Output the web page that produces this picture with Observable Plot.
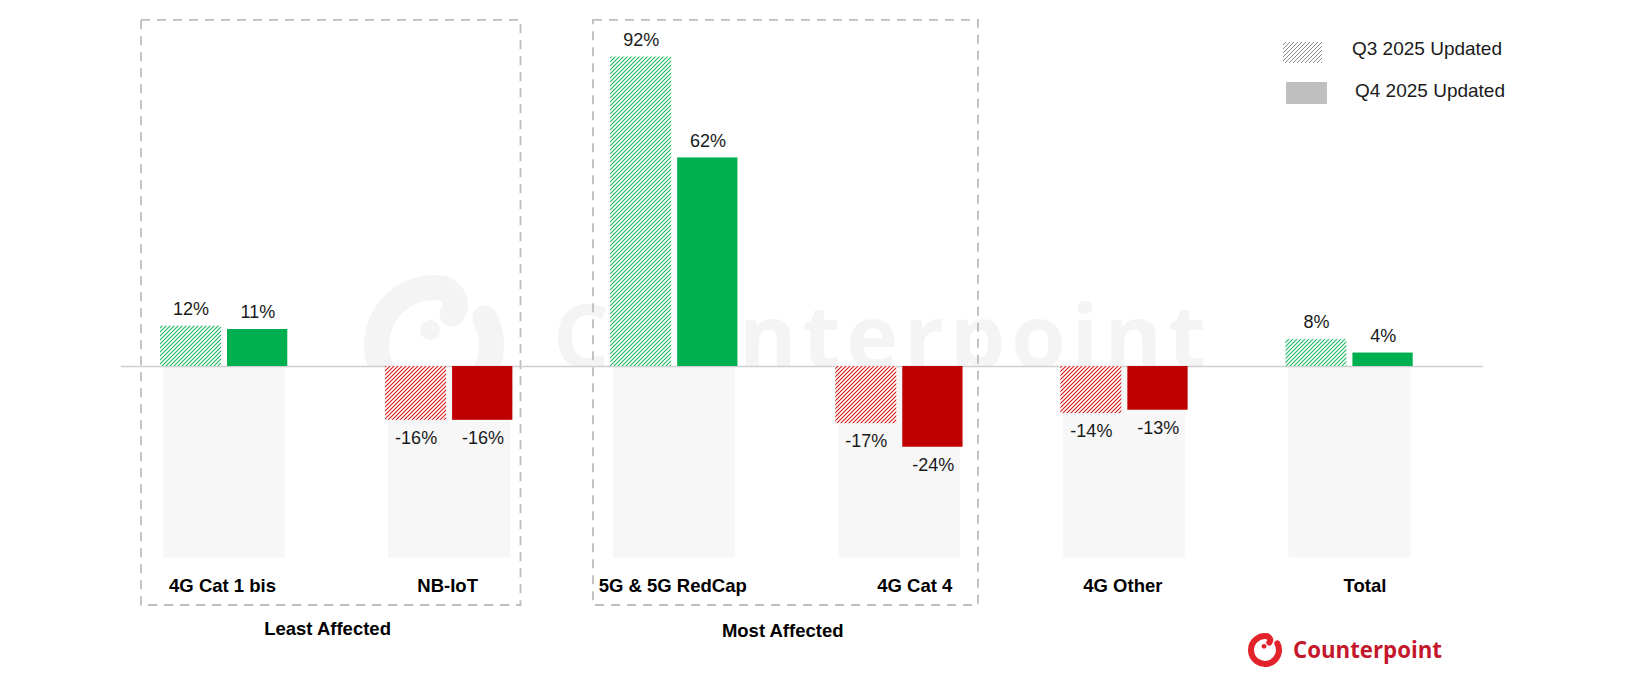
<!DOCTYPE html>
<html>
<head>
<meta charset="utf-8">
<script src="https://cdn.jsdelivr.net/npm/d3@7"></script>
<script src="https://cdn.jsdelivr.net/npm/@observablehq/plot@0.6"></script>
<style>
  html, body { margin: 0; padding: 0; background: #fff; }
  #chart svg { display: block; }
</style>
</head>
<body>
<div id="chart"></div>
<script>
// ---- data ----
const categories = ["4G Cat 1 bis", "NB-IoT", "5G & 5G RedCap", "4G Cat 4", "4G Other", "Total"];
const q3Values = [12, -16, 92, -17, -14, 8];
const q4Values = [11, -16, 62, -24, -13, 4];
const seriesNames = ["Q3 2025 Updated", "Q4 2025 Updated"];
const groupLabels = ["Least Affected", "Most Affected"];
const groupFirst = ["4G Cat 1 bis", "5G & 5G RedCap"];
const brand = "Counterpoint";

const rows = categories.flatMap((c, i) => [
  {category: c, series: seriesNames[0], value: q3Values[i]},
  {category: c, series: seriesNames[1], value: q4Values[i]}
]);
const q3 = rows.filter(d => d.series === seriesNames[0]);
const q4 = rows.filter(d => d.series === seriesNames[1]);
const pos = d => d.value >= 0;
const neg = d => d.value < 0;

// ---- layout / style ----
const W = 1652, H = 688;
const FONT = "'Liberation Sans', Arial, Helvetica, sans-serif";
const LOGO_FONT = "'Open Sans', 'Noto Sans', sans-serif";
const GREEN = "#00b050", RED = "#c00000";
const shifted = ["4G Cat 4", "Total"];

function valueLabels(data, dx, up) {
  return Plot.text(data, {
    x: "category", y: "value", text: d => `${d.value}%`,
    dx, dy: up ? -17 : 18, fontSize: 18, fontFamily: FONT, fill: "#1a1a1a"
  });
}

const plot = Plot.plot({
  width: W, height: H,
  marginTop: 0, marginLeft: 121, marginRight: 169, marginBottom: 114,
  style: {fontFamily: FONT, color: "#000", background: "transparent"},
  x: {type: "band", domain: categories, range: [111.5, 1462], padding: 0, round: false, label: null},
  y: {domain: [0, 100], range: [366, 29.6], axis: null},
  marks: [
    Plot.barY(categories, {x: d => d, y1: 0, y2: -57, insetLeft: 51.5, insetRight: 51.6, fill: "#f7f7f7"}),
    Plot.barY([groupFirst[0]], {x: d => d, y1: -71.05, y2: 102.9, insetLeft: 29.5, insetRight: -183.9,
      fill: "none", stroke: "#bdbdbd", strokeWidth: 1.8, strokeDasharray: "9,7"}),
    Plot.barY([groupFirst[1]], {x: d => d, y1: -71.05, y2: 102.9, insetLeft: 31.3, insetRight: -191.2,
      fill: "none", stroke: "#bdbdbd", strokeWidth: 1.8, strokeDasharray: "9,7"}),
    Plot.ruleY([0], {stroke: "#cfcfcf", strokeWidth: 1.3}),
    Plot.barY(q3.filter(pos), {x: "category", y1: 0, y2: "value", insetLeft: 48.5, insetRight: 115.6, fill: "url(#hatchGreen)"}),
    Plot.barY(q3.filter(neg), {x: "category", y1: 0, y2: "value", insetLeft: 48.5, insetRight: 115.6, fill: "url(#hatchRed)"}),
    Plot.barY(q4.filter(pos), {x: "category", y1: 0, y2: "value", insetLeft: 115.5, insetRight: 49.3, fill: GREEN}),
    Plot.barY(q4.filter(neg), {x: "category", y1: 0, y2: "value", insetLeft: 115.5, insetRight: 49.3, fill: RED}),
    valueLabels(q3.filter(pos), -33.5, true),
    valueLabels(q3.filter(neg), -33.5, false),
    valueLabels(q4.filter(pos), 33.4, true),
    valueLabels(q4.filter(neg), 33.4, false),
    Plot.axisX(categories.filter(c => !shifted.includes(c)), {anchor: "bottom", tickSize: 0, tickPadding: 4, label: null,
      fontSize: 18.5, fontWeight: "bold", fontFamily: FONT, fill: "#000", dx: -2}),
    Plot.axisX(shifted, {anchor: "bottom", tickSize: 0, tickPadding: 4, label: null,
      fontSize: 18.5, fontWeight: "bold", fontFamily: FONT, fill: "#000", dx: 15}),
    Plot.text([groupFirst[0]], {x: d => d, text: () => groupLabels[0], frameAnchor: "bottom", dy: 60, dx: 103,
      fontSize: 18.5, fontWeight: "bold", fontFamily: FONT, fill: "#000"}),
    Plot.text([groupFirst[1]], {x: d => d, text: () => groupLabels[1], frameAnchor: "bottom", dy: 62, dx: 108,
      fontSize: 18.5, fontWeight: "bold", fontFamily: FONT, fill: "#000"})
  ]
});

document.getElementById("chart").appendChild(plot);

const svg = d3.select(plot);
const defs = svg.append("defs");
function hatch(id, color, sw) {
  const p = defs.append("pattern").attr("id", id).attr("patternUnits", "userSpaceOnUse")
    .attr("width", 4).attr("height", 4);
  p.append("rect").attr("width", 4).attr("height", 4).attr("fill", "#fff");
  p.append("path").attr("d", "M-1,1 l2,-2 M0,4 l4,-4 M3,5 l2,-2")
    .attr("stroke", color).attr("stroke-width", sw);
}
hatch("hatchGreen", "#1cb862", 1.1);
hatch("hatchRed", "#d81818", 1.1);
hatch("hatchGray", "#8c8c8c", 1.0);

defs.append("clipPath").attr("id", "wmClip").append("rect")
  .attr("x", 0).attr("y", 0).attr("width", W).attr("height", 366);

function logo(g, cx, cy, s, color) {
  const r = 57.5 * s, sw = 25 * s;
  const pt = a => [cx + r * Math.sin(a * Math.PI / 180), cy - r * Math.cos(a * Math.PI / 180)];
  const [x0, y0] = pt(62), [x1, y1] = pt(10);
  g.append("path")
    .attr("d", `M${x0},${y0} A${r},${r} 0 1 1 ${x1},${y1} Q${cx + 28 * s},${cy - 45 * s} ${cx + 18 * s},${cy - 31 * s}`)
    .attr("fill", "none").attr("stroke", color).attr("stroke-width", sw).attr("stroke-linecap", "round");
  g.append("circle").attr("cx", cx - 4 * s).attr("cy", cy - 15 * s).attr("r", 10 * s).attr("fill", color);
}

const wm = svg.insert("g", "g").attr("clip-path", "url(#wmClip)");
logo(wm, 434, 345, 1, "#f4f4f4");
wm.append("text").attr("x", 553).attr("y", 368).attr("text-anchor", "start")
  .attr("font-family", LOGO_FONT).attr("font-weight", 700).attr("font-size", 88)
  .attr("textLength", 653).attr("lengthAdjust", "spacing")
  .attr("fill", "#f4f4f4").text(brand);

const lg = svg.append("g").attr("font-family", FONT).attr("font-size", 19)
  .attr("fill", "#1a1a1a").attr("text-anchor", "start");
lg.append("rect").attr("x", 1283).attr("y", 42).attr("width", 39).attr("height", 21).attr("fill", "url(#hatchGray)");
lg.append("text").attr("x", 1352).attr("y", 55).text(seriesNames[0]);
lg.append("rect").attr("x", 1286).attr("y", 82).attr("width", 41).attr("height", 22).attr("fill", "#bfbfbf");
lg.append("text").attr("x", 1355).attr("y", 97.3).text(seriesNames[1]);

const lo = svg.append("g").attr("text-anchor", "start");
logo(lo, 1265, 650, 0.243, "#e3232b");
lo.append("text").attr("x", 1293).attr("y", 658)
  .attr("font-family", LOGO_FONT).attr("font-weight", 700).attr("font-size", 23)
  .attr("textLength", 149).attr("lengthAdjust", "spacingAndGlyphs")
  .attr("fill", "#c4172c").text(brand);
</script>
</body>
</html>
